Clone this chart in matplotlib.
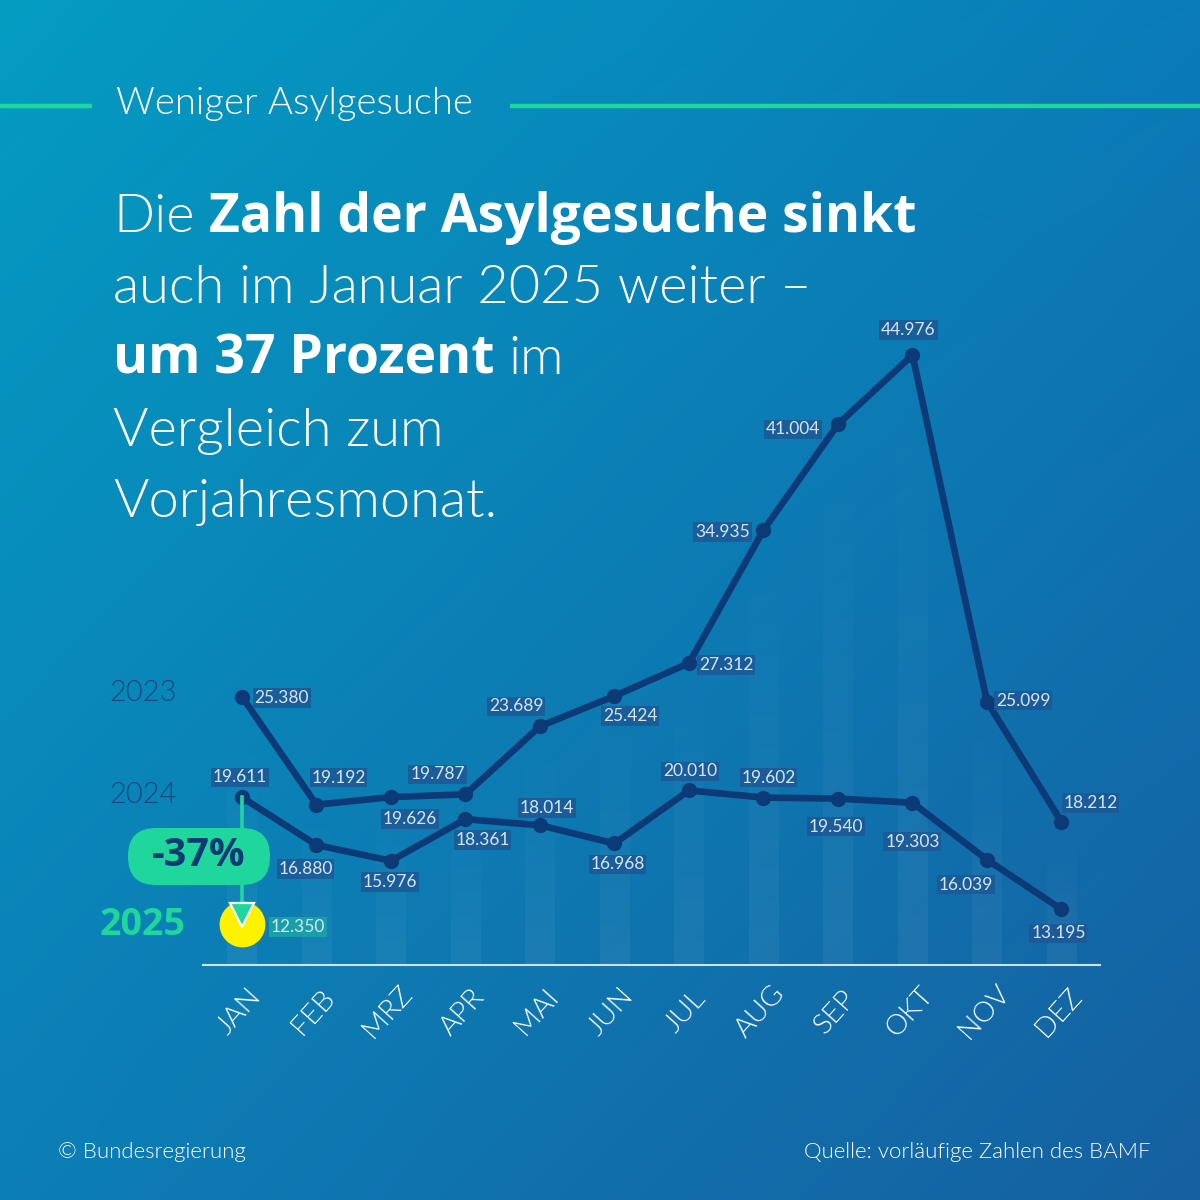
import numpy as np
import matplotlib.pyplot as plt
from matplotlib.patches import FancyBboxPatch
from matplotlib.transforms import offset_copy

plt.rcParams['font.family'] = ['Lato', 'DejaVu Sans']

monate = ["JAN", "FEB", "MRZ", "APR", "MAI", "JUN", "JUL", "AUG", "SEP", "OKT", "NOV", "DEZ"]
werte_2023 = [25380, 19192, 19626, 19787, 23689, 25424, 27312, 34935, 41004, 44976, 25099, 18212]
werte_2024 = [19611, 16880, 15976, 18361, 18014, 16968, 20010, 19602, 19540, 19303, 16039, 13195]
wert_2025 = 12350
veraenderung = "-37%"

# where the value labels sit relative to their point (pixels, right / up)
off_2023 = [(40, -1), (22, 27), (19, -22), (-28, 20), (-24, 20), (16, -20),
            (37, -2), (-41, -2), (-45, -5), (-4, 25), (36, 1), (29, 19)]
off_2024 = [(-2, 20), (-11, -24), (-1, -21), (17, -21), (7, 17), (3, -21),
            (1, 19), (5, 20), (-2, -28), (0, -39), (-21, -25), (-3, -24)]

navy = '#0b3a76'
gruen = '#1fd79c'
gelb = '#fff200'
lab_fg = '#d4e6f6'
lab_bg = '#1d5894'
LIGHT = 300
BOLD = 'bold'
fett = ['Open Sans', 'DejaVu Sans']


def fmt(v):
    return f"{v:,}".replace(",", ".")


fig = plt.figure(figsize=(12, 12), dpi=100)

# background gradient
bg = fig.add_axes([0, 0, 1, 1], zorder=0)
yy, xx = np.mgrid[0:1:300j, 0:1:300j]
tl = np.array([4, 156, 194]) / 255
tr = np.array([10, 124, 184]) / 255
bl = np.array([12, 126, 182]) / 255
br = np.array([22, 96, 160]) / 255
img = (tl * ((1 - xx) * (1 - yy))[..., None] + tr * (xx * (1 - yy))[..., None]
       + bl * ((1 - xx) * yy)[..., None] + br * (xx * yy)[..., None])
bg.imshow(img, extent=(0, 1200, 1200, 0), aspect='auto', interpolation='bilinear')
bg.set_xlim(0, 1200)
bg.set_ylim(1200, 0)
bg.axis('off')

# chart
ax = fig.add_axes([203 / 1200, 235 / 1200, 897 / 1200, 665 / 1200], zorder=2)
ax.patch.set_alpha(0)
y0, y1 = 10000, 48130
x0, x1 = -0.523, 11.517

# faint bars behind the months
verlauf = np.zeros((100, 1, 4))
verlauf[..., :3] = 1
verlauf[:, 0, 3] = np.linspace(0.0, 0.055, 100)
for i, v in enumerate(werte_2023):
    ax.imshow(verlauf, extent=(i - 0.2, i + 0.2, y0, v), aspect='auto', zorder=1)

x = np.arange(len(monate))
for werte, offs in [(werte_2023, off_2023), (werte_2024, off_2024)]:
    ax.plot(x, werte, color=navy, lw=4.8, marker='o', ms=10, zorder=4,
            solid_joinstyle='round', solid_capstyle='round')
    for i, v in enumerate(werte):
        ax.annotate(fmt(v), (i, v), xytext=offs[i], textcoords='offset pixels',
                    ha='center', va='center', fontsize=12.5, color=lab_fg, zorder=5,
                    bbox=dict(boxstyle='square,pad=0.1', fc=lab_bg, ec='none', alpha=0.85))

# 2025 point with arrow
ax.plot([0], [wert_2025], marker='o', ms=32, color=gelb, zorder=6)
ax.plot([0, 0], [werte_2024[0], wert_2025], color=gruen, lw=2.6, zorder=6.5)
spitze = offset_copy(ax.transData, fig=fig, x=0, y=9, units='dots')
ax.plot([0], [wert_2025], marker='v', ms=17, mfc=gruen, mec='white', mew=1.6,
        transform=spitze, zorder=7)
ax.annotate(fmt(wert_2025), (0, wert_2025), xytext=(56, -3), textcoords='offset pixels',
            ha='center', va='center', fontsize=12.5, color=lab_fg, zorder=7,
            bbox=dict(boxstyle='square,pad=0.1', fc='#1aa3a6', ec='none', alpha=0.9))

ax.axhline(y0, color='#cfe2f2', lw=1.5, clip_on=False, zorder=3)
for i, m in enumerate(monate):
    ax.annotate(m, (i, y0), xytext=(-3, -47), textcoords='offset pixels',
                rotation=48, ha='center', va='center', fontsize=20.5, weight=LIGHT,
                color='white', annotation_clip=False)

ax.set_xlim(x0, x1)
ax.set_ylim(y0, y1)
ax.axis('off')

# text overlay in pixel coordinates
ov = fig.add_axes([0, 0, 1, 1], zorder=10)
ov.set_xlim(0, 1200)
ov.set_ylim(1200, 0)
ov.axis('off')

ov.plot([0, 92], [106, 106], color=gruen, lw=3.2, solid_capstyle='butt')
ov.plot([510, 1200], [106, 106], color=gruen, lw=3.2, solid_capstyle='butt')
ov.text(116, 104, "Weniger Asylgesuche", va='center', ha='left', fontsize=27.5,
        weight=LIGHT, color='white')

renderer = fig.canvas.get_renderer()
gross = 39
luecke = gross * 100 / 72 * 0.26


def zeile(y, teile):
    xp = 113
    for n, (txt, w) in enumerate(teile):
        if n > 0:
            xp += luecke
        if w == BOLD:
            t = ov.text(xp, y, txt, fontsize=gross - 0.5, weight=w, family=fett,
                        color='white', ha='left', va='baseline')
        else:
            t = ov.text(xp, y, txt, fontsize=gross, weight=w, color='white',
                        ha='left', va='baseline')
        bb = t.get_window_extent(renderer)
        xp = ov.transData.inverted().transform((bb.x1, bb.y0))[0]


zeile(232, [("Die", LIGHT), ("Zahl der Asylgesuche sinkt", BOLD)])
zeile(303, [("auch im Januar 2025 weiter –", LIGHT)])
zeile(374, [("um 37 Prozent", BOLD), ("im", LIGHT)])
zeile(446, [("Vergleich zum", LIGHT)])
zeile(517, [("Vorjahresmonat.", LIGHT)])

ov.text(143, 693, "2023", ha='center', va='center', fontsize=21, weight=LIGHT, color='#15467f')
ov.text(143, 795, "2024", ha='center', va='center', fontsize=21, weight=LIGHT, color='#15467f')
ov.text(143, 925, "2025", ha='center', va='center', fontsize=27, weight=BOLD,
        family=fett, color=gruen)

ov.add_patch(FancyBboxPatch((135, 835), 128, 43, boxstyle='round,pad=7,rounding_size=28',
                            fc=gruen, ec='none'))
ov.text(199, 855, veraenderung, ha='center', va='center', fontsize=28.5, weight=BOLD,
        family=fett, color=navy)

ov.text(58, 1152, "© Bundesregierung", ha='left', va='center', fontsize=16,
        weight=LIGHT, color='white')
ov.text(1150, 1152, "Quelle: vorläufige Zahlen des BAMF", ha='right', va='center',
        fontsize=16, weight=LIGHT, color='white')

fig.savefig('out.png', dpi=100)
